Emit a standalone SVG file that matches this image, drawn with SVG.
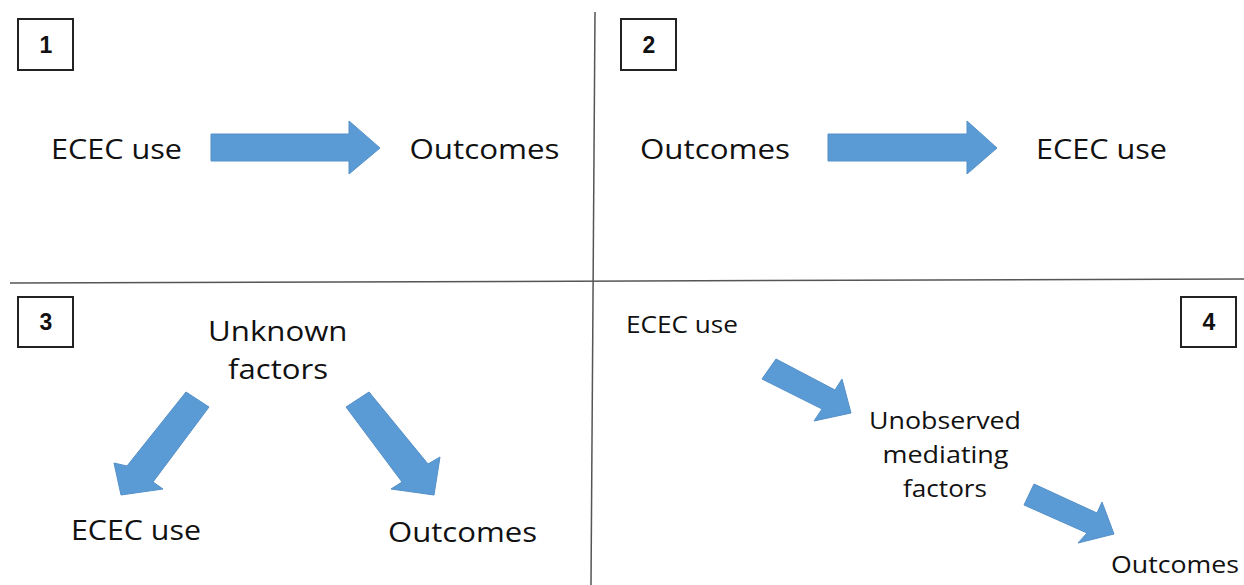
<svg xmlns="http://www.w3.org/2000/svg" width="1244" height="585" viewBox="0 0 1244 585">
<style>
.t{font-family:"Open Sans","Liberation Sans",sans-serif;fill:#111;}
.big{font-size:27.5px;}
.sm{font-size:23.5px;}
.num{font-family:"Liberation Sans",Arial,sans-serif;font-weight:bold;font-size:23px;fill:#111;text-anchor:middle;}
.box{fill:#fff;stroke:#222;stroke-width:2;}
.arr{fill:#5b9bd5;stroke:#5590c8;stroke-width:1;}
.div{stroke:#555;stroke-width:1.5;fill:none;}
</style>
<rect width="1244" height="585" fill="#fff"/>
<g id="dividers">
<line class="div" x1="595" y1="12" x2="591" y2="585"/>
<line class="div" x1="10" y1="283" x2="1244" y2="279"/>
</g>
<g id="label1"><rect class="box" x="18" y="19" width="55" height="51"/><text class="num" x="46" y="53">1</text></g>
<g id="label2"><rect class="box" x="621" y="19" width="55" height="51"/><text class="num" x="649" y="53">2</text></g>
<g id="label3"><rect class="box" x="18" y="297" width="55" height="50"/><text class="num" x="46" y="330">3</text></g>
<g id="label4"><rect class="box" x="1181" y="297" width="55" height="50"/><text class="num" x="1209" y="330">4</text></g>
<g id="p1-ecec"><text class="t big" x="51" y="159" textLength="131" lengthAdjust="spacingAndGlyphs">ECEC use</text></g>
<g id="p1-outcomes"><text class="t big" x="409.5" y="159" textLength="150" lengthAdjust="spacingAndGlyphs">Outcomes</text></g>
<g id="p2-outcomes"><text class="t big" x="640" y="159" textLength="150" lengthAdjust="spacingAndGlyphs">Outcomes</text></g>
<g id="p2-ecec"><text class="t big" x="1036" y="159" textLength="131" lengthAdjust="spacingAndGlyphs">ECEC use</text></g>
<g id="p3-unknown">
<text class="t big" x="208" y="341" textLength="139.5" lengthAdjust="spacingAndGlyphs">Unknown</text>
<text class="t big" x="228" y="379" textLength="100" lengthAdjust="spacingAndGlyphs">factors</text>
</g>
<g id="p3-ecec"><text class="t big" x="71" y="540" textLength="130" lengthAdjust="spacingAndGlyphs">ECEC use</text></g>
<g id="p3-outcomes"><text class="t big" x="388" y="542" textLength="149" lengthAdjust="spacingAndGlyphs">Outcomes</text></g>
<g id="p4-ecec"><text class="t sm" x="626" y="333" textLength="112" lengthAdjust="spacingAndGlyphs">ECEC use</text></g>
<g id="p4-mediating">
<text class="t sm" x="869" y="429" textLength="152" lengthAdjust="spacingAndGlyphs">Unobserved</text>
<text class="t sm" x="882.5" y="463" textLength="126" lengthAdjust="spacingAndGlyphs">mediating</text>
<text class="t sm" x="903" y="497" textLength="84" lengthAdjust="spacingAndGlyphs">factors</text>
</g>
<g id="p4-outcomes"><text class="t sm" x="1111" y="573" textLength="128" lengthAdjust="spacingAndGlyphs">Outcomes</text></g>
<g id="connectors">
<polygon class="arr" points="211,134 349,134 349,121 380,148 349,174 349,161 211,161"/>
<polygon class="arr" points="828,134 967,134 967,121 997,148 967,174 967,161 828,161"/>
<polygon class="arr" points="186,392 209,407 153,482 163,489 121,495 114,463 127,466"/>
<polygon class="arr" points="369,392 428,464 440,457 434,495 391,489 402,482 346,407"/>
<polygon class="arr" points="776,359 835,390 842,379 851,413 814,421 822,409 762,379"/>
<polygon class="arr" points="1034,484 1097,513 1102,502 1114,534 1078,543 1087,533 1024,505"/>
</g>
</svg>
